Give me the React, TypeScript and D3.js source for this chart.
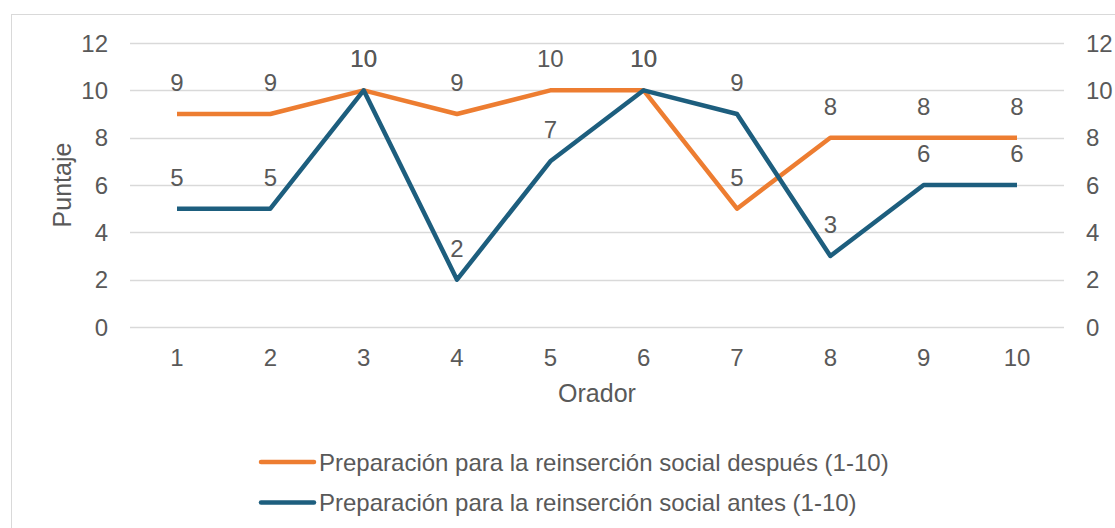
import * as d3 from "d3";
import * as React from "react";

const oradores: string[] = ["1", "2", "3", "4", "5", "6", "7", "8", "9", "10"];
const despues: number[] = [9, 9, 10, 9, 10, 10, 5, 8, 8, 8];
const antes: number[] = [5, 5, 10, 2, 7, 10, 9, 3, 6, 6];
const yTicks: number[] = [0, 2, 4, 6, 8, 10, 12];

const serieDespues = "Preparación para la reinserción social después (1-10)";
const serieAntes = "Preparación para la reinserción social antes (1-10)";

const W = 1115;
const H = 528;
const FONT = "'Liberation Sans', Arial, sans-serif";
const TEXT = "#595959";
const ORANGE = "#ED7D31";
const BLUE = "#1D5E7E";

export default function App(): JSX.Element {
    const ref = React.useRef<SVGSVGElement>(null);

    const x = d3.scalePoint<string>().domain(oradores).range([177, 1017]);
    const y = d3.scaleLinear().domain([0, 12]).range([327, 43]);

    React.useEffect(() => {
        const svg = d3.select(ref.current);
        svg.selectAll("*").remove();

        // chart border
        svg.append("rect")
            .attr("x", 11.5).attr("y", 14.5)
            .attr("width", 1110).attr("height", 520)
            .attr("fill", "white")
            .attr("stroke", "#D9D9D9");

        // gridlines
        svg.append("g").selectAll("line").data(yTicks).enter().append("line")
            .attr("x1", 130).attr("x2", 1064)
            .attr("y1", d => Math.round(y(d)) + 0.5)
            .attr("y2", d => Math.round(y(d)) + 0.5)
            .attr("stroke", "#D9D9D9").attr("stroke-width", 1.3);

        const txt = (g: d3.Selection<any, any, any, any>, size = 24) =>
            g.attr("font-family", FONT).attr("font-size", size).attr("fill", TEXT);

        // left & right tick labels
        svg.append("g").call(txt).selectAll("text").data(yTicks).enter().append("text")
            .attr("x", 108).attr("y", d => y(d) + 8.5)
            .attr("text-anchor", "end").text(d => d);
        svg.append("g").call(txt).selectAll("text").data(yTicks).enter().append("text")
            .attr("x", 1086).attr("y", d => y(d) + 8.5)
            .attr("text-anchor", "start").text(d => d);

        // x tick labels
        svg.append("g").call(txt).selectAll("text").data(oradores).enter().append("text")
            .attr("x", d => x(d)!).attr("y", 366)
            .attr("text-anchor", "middle").text(d => d);

        // axis titles
        svg.append("text").call(txt, 25)
            .attr("x", 597).attr("y", 402).attr("text-anchor", "middle").text("Orador");
        svg.append("text").call(txt, 25)
            .attr("transform", `translate(71,${(y(0) + y(12)) / 2}) rotate(-90)`)
            .attr("text-anchor", "middle").text("Puntaje");

        const line = d3.line<number>()
            .x((_, i) => x(oradores[i])!)
            .y(d => y(d));

        const series = [
            { name: serieDespues, values: despues, color: ORANGE },
            { name: serieAntes, values: antes, color: BLUE },
        ];

        series.forEach(s => {
            svg.append("path")
                .datum(s.values)
                .attr("d", line)
                .attr("fill", "none")
                .attr("stroke", s.color)
                .attr("stroke-width", 4.5)
                .attr("stroke-linejoin", "round");
        });

        series.forEach(s => {
            svg.append("g").call(txt).selectAll("text").data(s.values).enter().append("text")
                .attr("x", (_, i) => x(oradores[i])!)
                .attr("y", d => y(d) - 23)
                .attr("text-anchor", "middle")
                .text(d => d);
        });

        // legend
        const leg = svg.append("g");
        series.forEach((s, i) => {
            const ly = 462 + i * 40.5;
            leg.append("line")
                .attr("x1", 261).attr("x2", 314)
                .attr("y1", ly).attr("y2", ly)
                .attr("stroke", s.color).attr("stroke-width", 4.5)
                .attr("stroke-linecap", "round");
            leg.append("text").call(txt)
                .attr("x", 319).attr("y", ly + 8.5)
                .text(s.name);
        });
    }, []);

    return (
        <svg
            ref={ref}
            width={W}
            height={H}
            style={{ position: "absolute", left: 0, top: 0, display: "block" }}
        />
    );
}
